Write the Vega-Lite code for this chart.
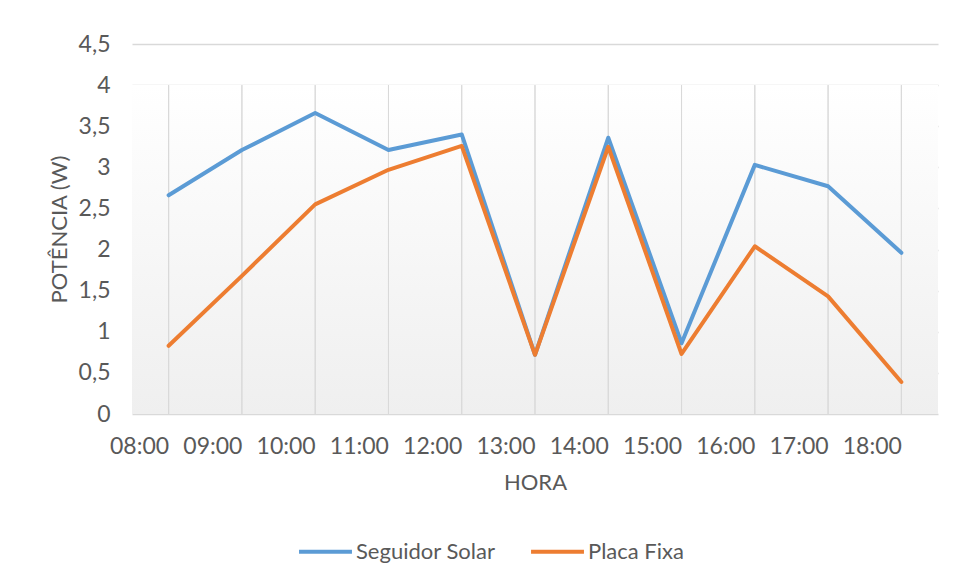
{
  "$schema": "https://vega.github.io/schema/vega-lite/v6.json",
  "width": 806,
  "height": 370,
  "autosize": {"type": "none"},
  "padding": {"left": 132, "top": 44, "right": 17, "bottom": 167},
  "background": "white",
  "config": {
    "view": {"stroke": null},
    "font": "Lato",
    "axis": {
      "labelFont": "Lato",
      "titleFont": "Lato",
      "labelColor": "#595959",
      "titleColor": "#595959",
      "labelFontSize": 23,
      "titleFontSize": 22,
      "titleFontWeight": "normal",
      "domain": false,
      "ticks": false
    },
    "legend": {
      "labelFont": "Lato",
      "labelColor": "#595959",
      "labelFontSize": 22
    }
  },
  "datasets": {
    "potencia": [
      {"hora": "08:00", "serie": "Seguidor Solar", "w": 2.66},
      {"hora": "09:00", "serie": "Seguidor Solar", "w": 3.21},
      {"hora": "10:00", "serie": "Seguidor Solar", "w": 3.66},
      {"hora": "11:00", "serie": "Seguidor Solar", "w": 3.21},
      {"hora": "12:00", "serie": "Seguidor Solar", "w": 3.40},
      {"hora": "13:00", "serie": "Seguidor Solar", "w": 0.72},
      {"hora": "14:00", "serie": "Seguidor Solar", "w": 3.36},
      {"hora": "15:00", "serie": "Seguidor Solar", "w": 0.86},
      {"hora": "16:00", "serie": "Seguidor Solar", "w": 3.03},
      {"hora": "17:00", "serie": "Seguidor Solar", "w": 2.77},
      {"hora": "18:00", "serie": "Seguidor Solar", "w": 1.96},
      {"hora": "08:00", "serie": "Placa Fixa", "w": 0.83},
      {"hora": "09:00", "serie": "Placa Fixa", "w": 1.68},
      {"hora": "10:00", "serie": "Placa Fixa", "w": 2.55},
      {"hora": "11:00", "serie": "Placa Fixa", "w": 2.97},
      {"hora": "12:00", "serie": "Placa Fixa", "w": 3.26},
      {"hora": "13:00", "serie": "Placa Fixa", "w": 0.72},
      {"hora": "14:00", "serie": "Placa Fixa", "w": 3.25},
      {"hora": "15:00", "serie": "Placa Fixa", "w": 0.73},
      {"hora": "16:00", "serie": "Placa Fixa", "w": 2.04},
      {"hora": "17:00", "serie": "Placa Fixa", "w": 1.43},
      {"hora": "18:00", "serie": "Placa Fixa", "w": 0.39}
    ],
    "fundo": [{"topo": 4, "base": 0}]
  },
  "layer": [
    {
      "data": {"name": "fundo"},
      "mark": {
        "type": "rect",
        "fill": {
          "gradient": "linear",
          "x1": 0, "y1": 0, "x2": 0, "y2": 1,
          "stops": [
            {"offset": 0, "color": "#ffffff"},
            {"offset": 1, "color": "#efefef"}
          ]
        }
      },
      "encoding": {
        "y": {"field": "topo", "type": "quantitative", "scale": {"domain": [0, 4.5]}},
        "y2": {"field": "base"}
      }
    },
    {
      "data": {"name": "potencia"},
      "mark": {"type": "rule", "color": "#d9d9d9", "strokeWidth": 1},
      "encoding": {
        "x": {"field": "hora", "type": "ordinal"},
        "y": {"datum": 0, "type": "quantitative"},
        "y2": {"datum": 4}
      }
    },
    {
      "data": {"name": "potencia"},
      "mark": {"type": "line", "strokeWidth": 4, "strokeCap": "round", "strokeJoin": "round"},
      "encoding": {
        "x": {
          "field": "hora",
          "type": "ordinal",
          "scale": {"type": "point", "padding": 0.5},
          "axis": {
            "title": "HORA",
            "labelAngle": 0,
            "labelPadding": 32,
            "titlePadding": 14,
            "grid": false
          }
        },
        "y": {
          "field": "w",
          "type": "quantitative",
          "scale": {"domain": [0, 4.5], "nice": false},
          "axis": {
            "title": "POTÊNCIA (W)",
            "values": [0, 0.5, 1, 1.5, 2, 2.5, 3, 3.5, 4, 4.5],
            "labelExpr": "replace(format(datum.value, ''), '.', ',')",
            "labelPadding": 22,
            "titlePadding": 7,
            "grid": true,
            "gridColor": "#d9d9d9",
            "gridWidth": 1.5
          }
        },
        "color": {
          "field": "serie",
          "type": "nominal",
          "scale": {
            "domain": ["Seguidor Solar", "Placa Fixa"],
            "range": ["#5b9bd5", "#ed7d31"]
          },
          "legend": {
            "title": null,
            "orient": "none",
            "legendX": 165,
            "legendY": 479,
            "padding": 0,
            "direction": "horizontal",
            "symbolType": "stroke",
            "symbolSize": 2800,
            "symbolStrokeWidth": 4,
            "labelOffset": 2,
            "columnPadding": 27
          }
        }
      }
    }
  ]
}
